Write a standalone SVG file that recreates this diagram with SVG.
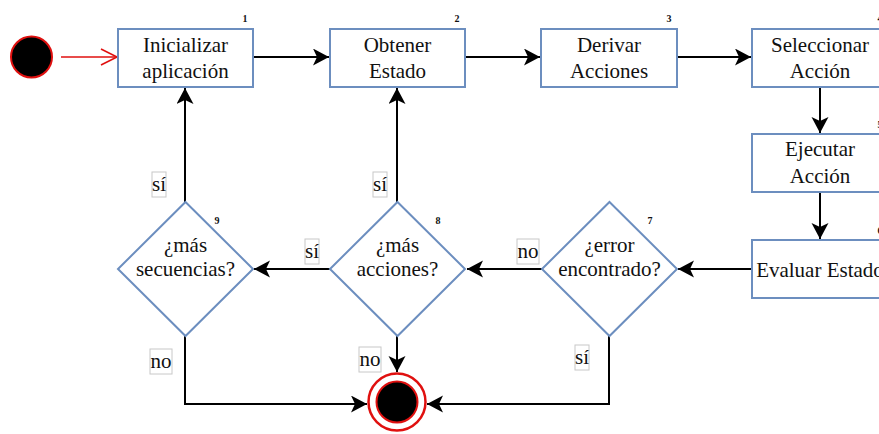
<svg xmlns="http://www.w3.org/2000/svg" width="879" height="434" viewBox="0 0 879 434">
  <style>
    .box { fill: #ffffff; stroke: #6c8ebf; stroke-width: 2; }
    .txt { font-family: "Liberation Serif", "Times New Roman", serif; font-size: 21px; fill: #111111; text-anchor: middle; }
    .num { font-family: "Liberation Serif", "Times New Roman", serif; font-size: 10px; font-weight: bold; fill: #111111; text-anchor: middle; }
    .edge { fill: none; stroke: #000000; stroke-width: 2; }
    .lblbox { fill: #ffffff; stroke: #c8c8c8; stroke-width: 1; }
  </style>
  <defs>
    <marker id="arrow" markerUnits="userSpaceOnUse" markerWidth="18" markerHeight="18" refX="16" refY="8.5" orient="auto">
      <path d="M0,0 L16,8.5 L0,17 L4,8.5 Z" fill="#000000"/>
    </marker>
  </defs>

  <rect width="879" height="434" fill="#ffffff"/>

  <!-- connectors -->
  <g id="connectors">
    <line x1="61" y1="57" x2="116" y2="57" stroke="#e0100f" stroke-width="1.6"/>
    <polyline points="101,49 117,57 101,65" fill="none" stroke="#e0100f" stroke-width="1.6"/>
    <line class="edge" x1="253" y1="57" x2="329" y2="57" marker-end="url(#arrow)"/>
    <line class="edge" x1="465" y1="57" x2="540" y2="57" marker-end="url(#arrow)"/>
    <line class="edge" x1="677" y1="57" x2="751" y2="57" marker-end="url(#arrow)"/>
    <line class="edge" x1="820" y1="87" x2="820" y2="133" marker-end="url(#arrow)"/>
    <line class="edge" x1="820" y1="192" x2="820" y2="239" marker-end="url(#arrow)"/>
    <line class="edge" x1="752" y1="269" x2="678" y2="269" marker-end="url(#arrow)"/>
    <line class="edge" x1="542" y1="269" x2="467" y2="269" marker-end="url(#arrow)"/>
    <line class="edge" x1="330" y1="269" x2="254" y2="269" marker-end="url(#arrow)"/>
    <line class="edge" x1="185" y1="202" x2="185" y2="88" marker-end="url(#arrow)"/>
    <line class="edge" x1="397" y1="202" x2="397" y2="88" marker-end="url(#arrow)"/>
    <line class="edge" x1="397" y1="336" x2="397" y2="372" marker-end="url(#arrow)"/>
    <path class="edge" d="M185,336 V404 H367" marker-end="url(#arrow)"/>
    <path class="edge" d="M609,336 V404 H427" marker-end="url(#arrow)"/>

    <!-- edge labels -->
    <rect class="lblbox" x="152" y="172" width="14" height="25"/>
    <text class="txt" x="159" y="191">sí</text>
    <rect class="lblbox" x="373" y="172" width="14" height="25"/>
    <text class="txt" x="380" y="191">sí</text>
    <rect class="lblbox" x="305" y="239" width="14" height="25"/>
    <text class="txt" x="312" y="258">sí</text>
    <rect class="lblbox" x="517" y="239" width="22" height="25"/>
    <text class="txt" x="528" y="258">no</text>
    <rect class="lblbox" x="150" y="349" width="22" height="25"/>
    <text class="txt" x="161" y="368">no</text>
    <rect class="lblbox" x="359" y="347" width="22" height="25"/>
    <text class="txt" x="370" y="366">no</text>
    <rect class="lblbox" x="575" y="345" width="14" height="25"/>
    <text class="txt" x="582" y="364">sí</text>
  </g>

  <!-- start -->
  <g id="start">
    <circle cx="31.5" cy="57" r="20.5" fill="#000000" stroke="#e0100f" stroke-width="2"/>
  </g>

  <!-- end -->
  <g id="end">
    <circle cx="397" cy="402" r="28.5" fill="#ffffff" stroke="#e0100f" stroke-width="2.5"/>
    <circle cx="397" cy="402" r="20.5" fill="#000000" stroke="#e0100f" stroke-width="2"/>
  </g>

  <g id="n1">
    <rect class="box" x="118" y="29" width="135" height="58"/>
    <text class="txt" x="185.5" y="52">Inicializar</text>
    <text class="txt" x="185.5" y="78">aplicación</text>
    <text class="num" x="245" y="22">1</text>
  </g>

  <g id="n2">
    <rect class="box" x="330" y="29" width="135" height="58"/>
    <text class="txt" x="397.5" y="52">Obtener</text>
    <text class="txt" x="397.5" y="78">Estado</text>
    <text class="num" x="457" y="22">2</text>
  </g>

  <g id="n3">
    <rect class="box" x="541" y="29" width="136" height="58"/>
    <text class="txt" x="609" y="52">Derivar</text>
    <text class="txt" x="609" y="78">Acciones</text>
    <text class="num" x="669" y="22">3</text>
  </g>

  <g id="n4">
    <rect class="box" x="752" y="29" width="136" height="58"/>
    <text class="txt" x="820" y="52">Seleccionar</text>
    <text class="txt" x="820" y="78">Acción</text>
    <text class="num" x="880" y="22">4</text>
  </g>

  <g id="n5">
    <rect class="box" x="752" y="134" width="136" height="58"/>
    <text class="txt" x="820" y="156">Ejecutar</text>
    <text class="txt" x="820" y="183">Acción</text>
    <text class="num" x="880" y="128">5</text>
  </g>

  <g id="n6">
    <rect class="box" x="752" y="240" width="136" height="58"/>
    <text class="txt" x="820" y="277">Evaluar Estado</text>
    <text class="num" x="880" y="234">6</text>
  </g>

  <g id="n7">
    <polygon class="box" points="609.5,202 677,269 609.5,336 542,269"/>
    <text class="txt" x="609.5" y="252">¿error</text>
    <text class="txt" x="609.5" y="276">encontrado?</text>
    <text class="num" x="650" y="224">7</text>
  </g>

  <g id="n8">
    <polygon class="box" points="397.5,202 465,269 397.5,336 330,269"/>
    <text class="txt" x="397.5" y="252">¿más</text>
    <text class="txt" x="397.5" y="276">acciones?</text>
    <text class="num" x="438" y="224">8</text>
  </g>

  <g id="n9">
    <polygon class="box" points="185.5,202 253,269 185.5,336 118,269"/>
    <text class="txt" x="185.5" y="252">¿más</text>
    <text class="txt" x="185.5" y="276">secuencias?</text>
    <text class="num" x="217" y="224">9</text>
  </g>
</svg>
